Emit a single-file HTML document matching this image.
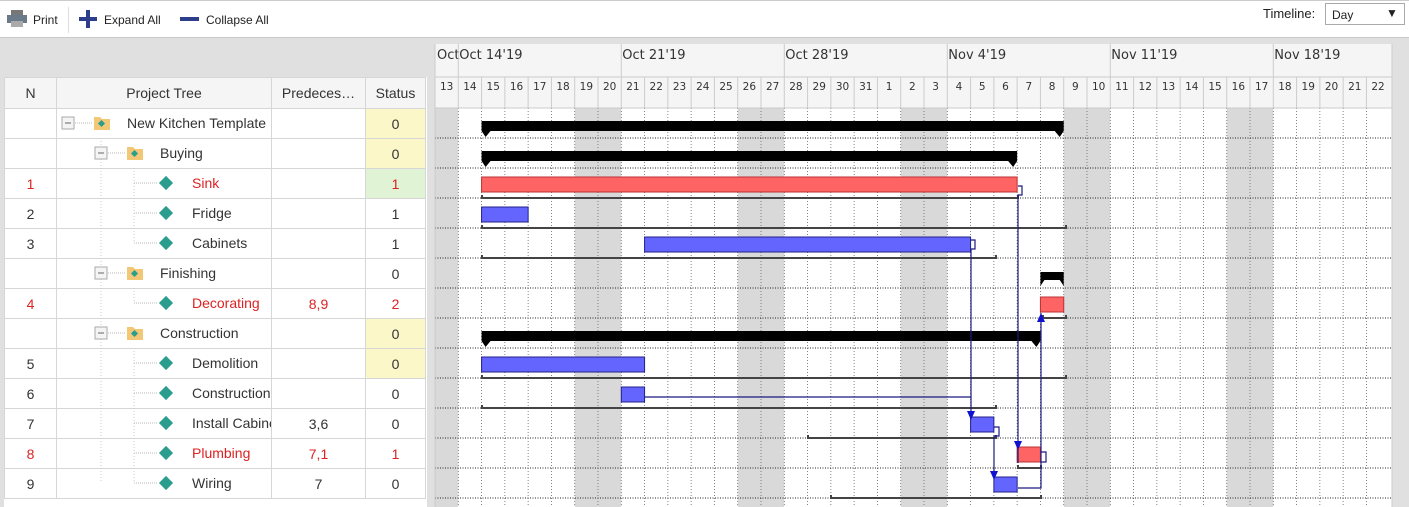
<!DOCTYPE html>
<html><head><meta charset="utf-8"><style>
html,body{margin:0;width:1409px;height:507px;overflow:hidden}
body{background:#e0e0e0;font-family:"Liberation Sans",sans-serif;position:relative}
#tb{position:absolute;left:0;top:0;width:1409px;height:36px;background:#fff;border-top:1px solid #ccc;border-bottom:1px solid #c8c8c8;font-size:12px;color:#222}
.t{position:absolute;white-space:nowrap}
#grid{position:absolute;left:4px;top:77px;width:423px;height:430px;background:#fff;overflow:hidden}
table{border-collapse:collapse;font-size:14px;color:#333;table-layout:fixed}
td,th{border:1px solid #d6d6d6;height:29px;padding:0;text-align:center;white-space:nowrap;overflow:hidden}
th{font-weight:normal;background:#f5f5f5;height:30px}
.r{color:#d22}
.y{background:#fbf7c9}.g{background:#e0f3d4}
</style></head><body>
<div id="tb">
<svg class="t" style="left:7px;top:9px" width="20" height="18"><rect x="4" y="0" width="12" height="5" fill="#777"/><rect x="0" y="5" width="20" height="8" fill="#6a7a88"/><rect x="4" y="11" width="12" height="6" fill="#aaa"/></svg>
<span class="t" style="left:33px;top:12px">Print</span>
<div class="t" style="left:68px;top:6px;width:1px;height:26px;background:#ddd"></div>
<svg class="t" style="left:79px;top:9px" width="18" height="18"><rect x="7" y="0" width="4" height="18" fill="#2c3e8c"/><rect x="0" y="7" width="18" height="4" fill="#2c3e8c"/></svg>
<span class="t" style="left:104px;top:12px">Expand All</span>
<svg class="t" style="left:180px;top:16px" width="19" height="4"><rect width="19" height="4" fill="#2c3e8c"/></svg>
<span class="t" style="left:206px;top:12px">Collapse All</span>
<span class="t" style="left:1263px;top:5px;font-size:13px">Timeline:</span>
<div class="t" style="left:1325px;top:2px;width:78px;height:20px;border:1px solid #aaa;background:#fff;font-size:12px"><span style="position:absolute;left:6px;top:4px">Day</span><span style="position:absolute;left:60px;top:2px;font-size:12px">▼</span></div>
</div>
<div id="grid"><table>
<colgroup><col style="width:52px"><col style="width:215px"><col style="width:94px"><col style="width:60px"></colgroup>
<tr><th>N</th><th>Project Tree</th><th>Predeces…</th><th>Status</th></tr>
<tr><td></td><td></td><td></td><td class="y">0</td></tr>
<tr><td></td><td></td><td></td><td class="y">0</td></tr>
<tr><td class="r">1</td><td></td><td></td><td class="g r">1</td></tr>
<tr><td>2</td><td></td><td></td><td>1</td></tr>
<tr><td>3</td><td></td><td></td><td>1</td></tr>
<tr><td></td><td></td><td></td><td>0</td></tr>
<tr><td class="r">4</td><td></td><td class="r">8,9</td><td class="r">2</td></tr>
<tr><td></td><td></td><td></td><td class="y">0</td></tr>
<tr><td>5</td><td></td><td></td><td class="y">0</td></tr>
<tr><td>6</td><td></td><td></td><td>0</td></tr>
<tr><td>7</td><td></td><td>3,6</td><td>0</td></tr>
<tr><td class="r">8</td><td></td><td class="r">7,1</td><td class="r">1</td></tr>
<tr><td>9</td><td></td><td>7</td><td>0</td></tr>
</table></div>
<svg id="treeSvg" style="position:absolute;left:0;top:0" width="430" height="507"><defs><clipPath id="cp"><rect x="58" y="108" width="213" height="400"/></clipPath></defs><g id="tg" clip-path="url(#cp)"></g></svg>
<svg id="g" style="position:absolute;left:0;top:0" width="1409" height="507"></svg>
<script>
const NS='http://www.w3.org/2000/svg';
function el(p,t,a,txt){const e=document.createElementNS(NS,t);for(const k in a)e.setAttribute(k,a[k]);if(txt!=null)e.textContent=txt;p.appendChild(e);return e;}
const T=document.getElementById('tg');
const items=[[0,'New Kitchen Template',1,0],[1,'Buying',1,0],[2,'Sink',0,1],[2,'Fridge',0,0],[2,'Cabinets',0,0],[1,'Finishing',1,0],[2,'Decorating',0,1],[1,'Construction',1,0],[2,'Demolition',0,0],[2,'Construction',0,0],[2,'Install Cabinets',0,0],[2,'Plumbing',0,1],[2,'Wiring',0,0]];
el(T,'line',{x1:101,y1:138,x2:101,y2:483,stroke:'#ccc','stroke-dasharray':'1,2'});
el(T,'line',{x1:134,y1:168,x2:134,y2:243,stroke:'#ccc','stroke-dasharray':'1,2'});
el(T,'line',{x1:134,y1:288,x2:134,y2:303,stroke:'#ccc','stroke-dasharray':'1,2'});
el(T,'line',{x1:134,y1:348,x2:134,y2:483,stroke:'#ccc','stroke-dasharray':'1,2'});
items.forEach((it,i)=>{const cy=123+i*30;const lv=it[0];
 if(it[2]){const bx=62+lv*33;el(T,'rect',{x:bx,y:cy-6,width:12,height:12,fill:'#f4f4f4',stroke:'#aaa'});el(T,'line',{x1:bx+3,y1:cy,x2:bx+9,y2:cy,stroke:'#666'});
  el(T,'line',{x1:bx+13,y1:cy,x2:bx+30,y2:cy,stroke:'#bbb','stroke-dasharray':'1,1'});
  el(T,'path',{d:`M${bx+32} ${cy-6}h6l2 2h8v11h-16z`,fill:'#f2c877'});el(T,'rect',{x:bx+37,y:cy-2,width:5,height:5,fill:'#2a9d8f',transform:`rotate(45 ${bx+39.5} ${cy+0.5})`});
  el(T,'text',{x:bx+65,y:cy+5,'font-size':14,fill:'#333','font-family':'Liberation Sans'},it[1]);}
 else{el(T,'line',{x1:134,y1:cy,x2:158,y2:cy,stroke:'#bbb','stroke-dasharray':'1,1'});
  el(T,'rect',{x:161,y:cy-5,width:10,height:10,fill:'#2a9d8f',transform:`rotate(45 166 ${cy})`});
  el(T,'text',{x:192,y:cy+5,'font-size':14,fill:it[3]?'#d22':'#333','font-family':'Liberation Sans'},it[1]);}
});
const G=document.getElementById('g');const X0=435,D=163/7,R=1392;
el(G,'rect',{x:X0,y:44,width:R-X0,height:463,fill:'#fff'});
el(G,'rect',{x:X0,y:44,width:R-X0,height:64,fill:'#f5f5f5'});
const lab=[];for(let d=13;d<=31;d++)lab.push(d);for(let d=1;d<=22;d++)lab.push(d);
lab.forEach((d,i)=>{const x=X0+i*D;const dow=i%7;
 if(dow==0||dow==6)el(G,'rect',{x:x,y:108,width:D,height:399,fill:'#d9d9d9'});
 el(G,'text',{x:x+D/2,y:90,fill:'#333','text-anchor':'middle','font-family':'DejaVu Sans','font-size':10.5},d);
 el(G,'line',{x1:x,y1:77,x2:x,y2:108,stroke:'#ccc'});
 if(i>0)el(G,'line',{x1:x,y1:108,x2:x,y2:507,stroke:'#666','stroke-dasharray':'1,2','stroke-width':0.8});
});
for(let r=0;r<14;r++)el(G,'line',{x1:X0,y1:138+r*30,x2:R,y2:138+r*30,stroke:'#222','stroke-dasharray':'1,1.5','stroke-width':1});
el(G,'line',{x1:X0,y1:77,x2:R,y2:77,stroke:'#ccc'});el(G,'line',{x1:X0,y1:108,x2:R,y2:108,stroke:'#ccc'});
el(G,'text',{x:437,y:59,'font-size':13,fill:'#333','font-family':'DejaVu Sans'},'Oct');
['Oct 14\'19','Oct 21\'19','Oct 28\'19','Nov 4\'19','Nov 11\'19','Nov 18\'19'].forEach((t,k)=>{const x=X0+(1+7*k)*D;el(G,'line',{x1:x,y1:44,x2:x,y2:77,stroke:'#ccc'});el(G,'text',{x:x+1,y:59,'font-size':13,fill:'#333','font-family':'DejaVu Sans'},t);});
el(G,'line',{x1:X0,y1:44,x2:X0,y2:507,stroke:'#ccc'});el(G,'line',{x1:R,y1:44,x2:R,y2:507,stroke:'#ccc'});
const xd=i=>X0+i*D;
function summ(a,b,y){el(G,'path',{d:`M${xd(a)} ${y}h${xd(b)-xd(a)}v10l-4 6l-5 -6h${-(xd(b)-xd(a)-18)}l-5 6l-4 -6z`,fill:'#000'});}
summ(2,27,121);summ(2,25,151);summ(2,26,331);
el(G,'path',{d:`M${xd(26)} 272h${D}v14l-4-6h${-(D-8)}l-4 6z`,fill:'#000'});
function bar(a,b,row,c){el(G,'rect',{x:xd(a),y:117+row*30,width:xd(b)-xd(a),height:15,fill:c=='r'?'#ff6464':'#6464ff',stroke:c=='r'?'#b33':'#22228a'});}
function bl(a,b,row){const y=138+row*30;el(G,'path',{d:`M${a} ${y-3}v3h${b-a}v-3`,stroke:'#444',fill:'none','stroke-width':2});}
bar(2,25,2,'r');bar(2,4,3);bar(9,23,4);bar(26,27,6,'r');bar(2,9,8);bar(8,9,9);bar(23,24,10);bar(25,26,11,'r');bar(24,25,12);
bl(482,1018,2);bl(482,1066,3);bl(482,996,4);bl(1043,1066,6);bl(482,1066,8);bl(482,996,9);bl(808,996,10);bl(1018,1041,11);bl(831,1041,12);
const B='#1a1a80';function ln(d){el(G,'path',{d:d,stroke:B,fill:'none','stroke-width':1.2});}
function arD(x,y){el(G,'path',{d:`M${x-4} ${y-9}h8l-4 9z`,fill:'#1010d0'});}
function arU(x,y){el(G,'path',{d:`M${x-4} ${y+9}h8l-4-9z`,fill:'#1010d0'});}
ln('M1018 186h4v9h-4v268');arD(1018,450);
ln('M971 240h4v9h-4v162');arD(971,420);
ln('M645 397h326');
ln('M994 427h5v9h-5v36');arD(994,480);
ln('M1041 452h5v10h-5');ln('M1018 488h23v-175');arU(1041,313);
el(G,'rect',{x:R+1,y:44,width:17,height:463,fill:'#e0e0e0'});
</script>
</body></html>
